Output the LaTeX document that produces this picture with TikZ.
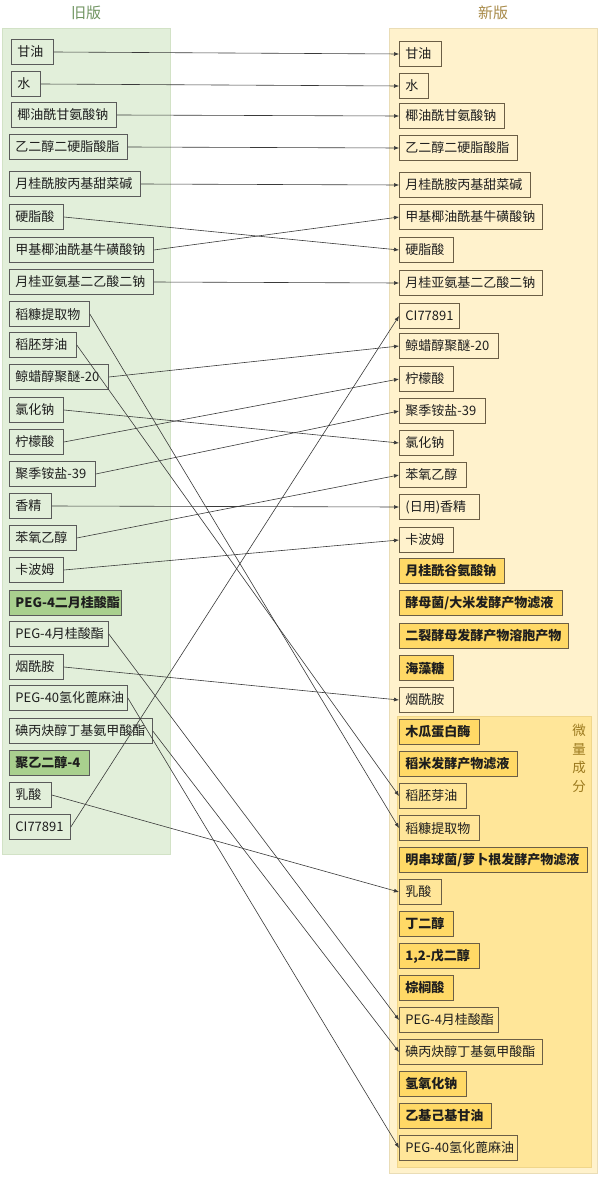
\documentclass[tikz,border=0pt]{standalone}
\usepackage{fontspec}
\setmainfont{Noto Sans CJK SC}
\usetikzlibrary{arrows.meta}
\definecolor{lpanel}{HTML}{E2EFDA}
\definecolor{lpanelb}{HTML}{D2E2C6}
\definecolor{rpanel}{HTML}{FFF2CC}
\definecolor{rpanelb}{HTML}{EADDB6}
\definecolor{ipanel}{HTML}{FFE699}
\definecolor{ipanelb}{HTML}{F0D68A}
\definecolor{goldfill}{HTML}{FFD966}
\definecolor{greenfill}{HTML}{A9D08E}
\definecolor{boxline}{HTML}{5A5A5A}
\definecolor{rboxline}{HTML}{6B5E45}
\definecolor{linec}{HTML}{3A3A3A}
\definecolor{oldt}{HTML}{6F9460}
\definecolor{newt}{HTML}{A88A48}
\definecolor{tracet}{HTML}{9C7A1E}
\definecolor{txt}{HTML}{1E1E1E}
\newcommand\lbx[6]{\node[ibox,#6] (#1) at (#2,#3) {\makebox[\dimexpr#4pt-#2pt-12pt\relax][l]{#5}};}
\begin{document}
\begin{tikzpicture}[x=1pt,y=-1pt,
  ibox/.style={draw=boxline,line width=0.8pt,anchor=west,minimum height=25pt,inner xsep=6pt,inner ysep=0pt,text=txt,font=\fontsize{13}{15}\selectfont},
  rb/.style={draw=rboxline},
  gold/.style={fill=goldfill,font=\fontsize{13}{15}\selectfont\bfseries},
  green/.style={fill=greenfill,font=\fontsize{13}{15}\selectfont\bfseries},
  conn/.style={draw=linec,line width=0.6pt,-{Latex[length=5pt,width=4pt]}}]
\useasboundingbox (0,0) rectangle (600,1177);
\fill[white] (0,0) rectangle (600,1177);
% panels
\draw[lpanelb,fill=lpanel,line width=0.8pt] (2,28) rectangle (170,854);
\draw[rpanelb,fill=rpanel,line width=0.8pt] (389,28) rectangle (597,1173);
\draw[ipanelb,fill=ipanel,line width=0.8pt] (397,716) rectangle (591,1167);
\node[text=oldt,font=\fontsize{15}{17}\selectfont] (toldt) at (86,13) {旧版};
\node[text=newt,font=\fontsize{15}{17}\selectfont] (tnewt) at (493,13) {新版};
\node[text=tracet,font=\fontsize{13.5}{18.5}\selectfont,align=center,anchor=north] (trace) at (579,721) {微\\量\\成\\分};
% left boxes
\lbx{L1}{11}{52}{53}{甘油}{}
\lbx{L2}{11}{84}{40}{水}{}
\lbx{L3}{11}{115}{116}{椰油酰甘氨酸钠}{}
\lbx{L4}{9}{147}{127}{乙二醇二硬脂酸脂}{}
\lbx{L5}{9}{184}{140}{月桂酰胺丙基甜菜碱}{}
\lbx{L6}{9}{217}{63}{硬脂酸}{}
\lbx{L7}{9}{250}{153}{甲基椰油酰基牛磺酸钠}{}
\lbx{L8}{9}{282}{153}{月桂亚氨基二乙酸二钠}{}
\lbx{L9}{9}{314}{89}{稻糠提取物}{}
\lbx{L10}{9}{345}{76}{稻胚芽油}{}
\lbx{L11}{9}{377}{108}{鲸蜡醇聚醚-20}{}
\lbx{L12}{9}{410}{63}{氯化钠}{}
\lbx{L13}{9}{442}{63}{柠檬酸}{}
\lbx{L14}{9}{474}{95}{聚季铵盐-39}{}
\lbx{L15}{9}{506}{51}{香精}{}
\lbx{L16}{9}{538}{76}{苯氧乙醇}{}
\lbx{L17}{9}{570}{63}{卡波姆}{}
\lbx{L18}{9}{603}{121}{PEG-4二月桂酸酯}{green}
\lbx{L19}{9}{634}{108}{PEG-4月桂酸酯}{}
\lbx{L20}{9}{667}{63}{烟酰胺}{}
\lbx{L21}{9}{698}{127}{PEG-40氢化蓖麻油}{}
\lbx{L22}{9}{731}{152}{碘丙炔醇丁基氨甲酸酯}{}
\lbx{L23}{9}{763}{89}{聚乙二醇-4}{green}
\lbx{L24}{9}{795}{51}{乳酸}{}
\lbx{L25}{9}{827}{70}{CI77891}{}
% right boxes
\lbx{R1}{399}{54}{441}{甘油}{rb}
\lbx{R2}{399}{86}{428}{水}{rb}
\lbx{R3}{399}{116}{504}{椰油酰甘氨酸钠}{rb}
\lbx{R4}{399}{148}{517}{乙二醇二硬脂酸脂}{rb}
\lbx{R5}{399}{185}{530}{月桂酰胺丙基甜菜碱}{rb}
\lbx{R6}{399}{217}{542}{甲基椰油酰基牛磺酸钠}{rb}
\lbx{R7}{399}{250}{453}{硬脂酸}{rb}
\lbx{R8}{399}{283}{542}{月桂亚氨基二乙酸二钠}{rb}
\lbx{R9}{399}{316}{459}{CI77891}{rb}
\lbx{R10}{399}{346}{498}{鲸蜡醇聚醚-20}{rb}
\lbx{R11}{399}{379}{453}{柠檬酸}{rb}
\lbx{R12}{399}{411}{485}{聚季铵盐-39}{rb}
\lbx{R13}{399}{443}{453}{氯化钠}{rb}
\lbx{R14}{399}{475}{466}{苯氧乙醇}{rb}
\lbx{R15}{399}{507}{479}{(日用)香精}{rb}
\lbx{R16}{399}{540}{453}{卡波姆}{rb}
\lbx{R17}{399}{571}{504}{月桂酰谷氨酸钠}{rb,gold}
\lbx{R18}{399}{603}{562}{酵母菌/大米发酵产物滤液}{rb,gold}
\lbx{R19}{399}{636}{568}{二裂酵母发酵产物溶胞产物}{rb,gold}
\lbx{R20}{399}{668}{453}{海藻糖}{rb,gold}
\lbx{R21}{399}{700}{453}{烟酰胺}{rb}
\lbx{R22}{399}{732}{479}{木瓜蛋白酶}{rb,gold}
\lbx{R23}{399}{764}{517}{稻米发酵产物滤液}{rb,gold}
\lbx{R24}{399}{796}{466}{稻胚芽油}{rb}
\lbx{R25}{399}{828}{479}{稻糠提取物}{rb}
\lbx{R26}{399}{860}{587}{明串球菌/萝卜根发酵产物滤液}{rb,gold}
\lbx{R27}{399}{892}{441}{乳酸}{rb}
\lbx{R28}{399}{924}{453}{丁二醇}{rb,gold}
\lbx{R29}{399}{956}{479}{1,2-戊二醇}{rb,gold}
\lbx{R30}{399}{988}{453}{棕榈酸}{rb,gold}
\lbx{R31}{399}{1020}{498}{PEG-4月桂酸酯}{rb}
\lbx{R32}{399}{1052}{542}{碘丙炔醇丁基氨甲酸酯}{rb}
\lbx{R33}{399}{1084}{466}{氢氧化钠}{rb,gold}
\lbx{R34}{399}{1116}{491}{乙基己基甘油}{rb,gold}
\lbx{R35}{399}{1148}{517}{PEG-40氢化蓖麻油}{rb}
% connectors
\foreach \a/\b in {L1/R1,L2/R2,L3/R3,L4/R4,L5/R5,L6/R7,L7/R6,L8/R8,L9/R25,L10/R24,L11/R10,L12/R13,L13/R11,L14/R12,L15/R15,L16/R14,L17/R16,L19/R31,L20/R21,L21/R35,L22/R32,L24/R27,L25/R9}
  \draw[conn] (\a.east) -- (\b.west);
\end{tikzpicture}
\end{document}
